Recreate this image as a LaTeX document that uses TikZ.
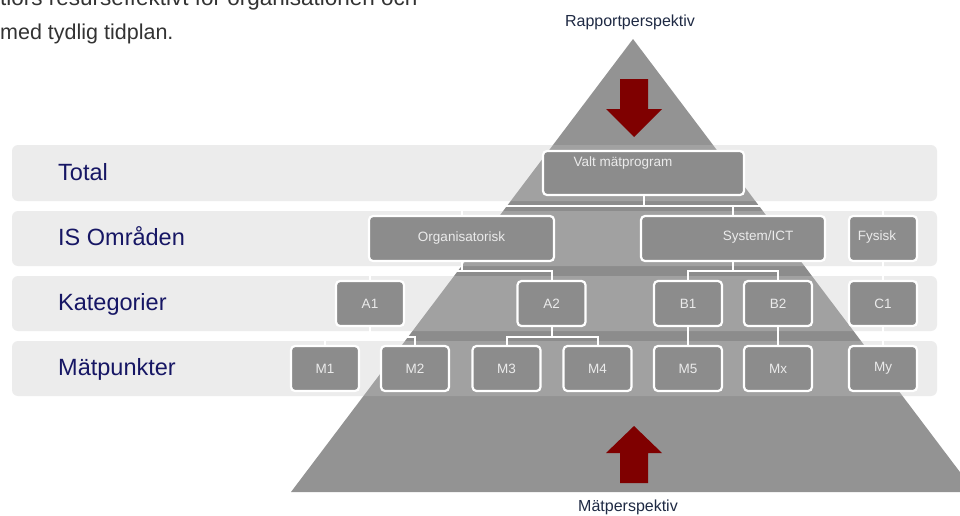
\documentclass[tikz,border=0pt]{standalone}
\usepackage{fontspec}
\setmainfont{Liberation Sans}
\usetikzlibrary{calc}
\definecolor{pyr}{HTML}{939393}
\definecolor{bandc}{HTML}{C3C3C3}
\definecolor{boxc}{HTML}{8C8C8C}
\definecolor{navy}{RGB}{22,22,100}
\definecolor{arrowred}{HTML}{7F0000}
\definecolor{captxt}{HTML}{1F2A44}
\definecolor{bodytxt}{HTML}{333333}
\begin{document}
\begin{tikzpicture}[x=1pt,y=-1pt,
  band/.style={fill=bandc,fill opacity=0.3,rounded corners=6pt},
  nbox/.style={draw=white,line width=2.2pt,fill=boxc,rounded corners=4pt,
    minimum width=68pt,minimum height=45pt,inner sep=0pt,text=white!92!black,
    font=\fontsize{13.5}{15}\selectfont},
  boxlbl/.style={inner sep=0pt,text=white!92!black,font=\fontsize{13.5}{15}\selectfont},
  conn/.style={draw=white,line width=2pt},
  rowlabel/.style={anchor=base west,text=navy,font=\fontsize{23.5}{28}\selectfont,inner sep=0pt},
  caption/.style={anchor=base,text=captxt,font=\fontsize{16}{19}\selectfont,inner sep=0pt},
  bodyline/.style={text=bodytxt,font=\fontsize{21.5}{26}\selectfont,inner sep=0pt}]
\clip (0,0) rectangle (960,515);
\fill[white] (0,0) rectangle (960,515);
% body text (cut off at top, as in the reference)
\node[bodyline,anchor=base west,font=\fontsize{22.5}{27}\selectfont] (body1) at (0,5.5) {tiors resurseffektivt för organisationen och};
\node[bodyline,anchor=base west] (body2) at (0,39) {med tydlig tidplan.};
% pyramid
\fill[pyr] (633,39) -- (975,492) -- (291,492) -- cycle;
\begin{scope}
  \clip (633,39) -- (975,492) -- (291,492) -- cycle;
  \fill[black,opacity=0.045] (0,201) rectangle (960,211);
  \fill[black,opacity=0.045] (0,266) rectangle (960,276);
  \fill[black,opacity=0.045] (0,331) rectangle (960,341);
\end{scope}
% bands
\fill[band] (12,145) rectangle (937,201);
\fill[band] (12,211) rectangle (937,266);
\fill[band] (12,276) rectangle (937,331);
\fill[band] (12,341) rectangle (937,396);
% row labels
\node[rowlabel] (lt) at (58,180) {Total};
\node[rowlabel] (li) at (58,245) {IS Områden};
\node[rowlabel] (lk) at (58,310) {Kategorier};
\node[rowlabel] (lm) at (58,375) {Mätpunkter};
% arrows
\fill[arrowred] (620,79) -- (648,79) -- (648,109) -- (662,109) -- (634,137) -- (606,109) -- (620,109) -- cycle;
\fill[arrowred] (620,483) -- (648,483) -- (648,453) -- (662,453) -- (634,426) -- (606,453) -- (620,453) -- cycle;
% captions
\node[caption] (rap) at (630,26) {Rapportperspektiv};
\node[caption] (mat) at (628,511) {Mätperspektiv};
% boxes
\node[nbox,minimum width=201pt,minimum height=44pt] (valt) at (643.5,173) {};
\node[boxlbl] (valtt) at (623,163) {Valt mätprogram};
\node[nbox,minimum width=185pt] (org) at (461.5,238.5) {Organisatorisk};
\node[nbox,minimum width=184pt] (sys) at (733,238.5) {};
\node[boxlbl] (syst) at (758,237) {System/ICT};
\node[nbox] (fys) at (883,238.5) {};
\node[boxlbl] (fyst) at (877,237) {Fysisk};
\node[nbox] (a1) at (370,303.5) {A1};
\node[nbox] (a2) at (551.5,303.5) {A2};
\node[nbox] (b1) at (688,303.5) {B1};
\node[nbox] (b2) at (778,303.5) {B2};
\node[nbox] (c1) at (883,303.5) {C1};
\node[nbox] (m1) at (325,368.5) {M1};
\node[nbox] (m2) at (415,368.5) {M2};
\node[nbox] (m3) at (506.5,368.5) {M3};
\node[nbox] (m4) at (597.5,368.5) {M4};
\node[nbox] (m5) at (688,368.5) {M5};
\node[nbox] (mx) at (778,368.5) {Mx};
\node[nbox] (my) at (883,368.5) {My};
% connectors
\coordinate (j0) at (643.5,205.5);
\coordinate (j1) at (461.5,270.5);
\coordinate (j2) at (733,270.5);
\coordinate (j3) at (370,336.5);
\coordinate (j4) at (551.5,336.5);
\draw[conn] (valt.south) -- (j0);
\draw[conn] (org.north) |- (j0) -| (fys.north);
\draw[conn] (sys.north) -- (sys.north |- j0);
\draw[conn] (org.south) -- (j1);
\draw[conn] (a1.north) |- (j1) -| (a2.north);
\draw[conn] (sys.south) -- (j2);
\draw[conn] (b1.north) |- (j2) -| (b2.north);
\draw[conn] (a1.south) -- (j3);
\draw[conn] (m1.north) |- (j3) -| (m2.north);
\draw[conn] (a2.south) -- (j4);
\draw[conn] (m3.north) |- (j4) -| (m4.north);
\draw[conn] (b1.south) -- (m5.north);
\draw[conn] (b2.south) -- (mx.north);
\draw[conn] (fys.south) -- (c1.north);
\draw[conn] (c1.south) -- (my.north);
\end{tikzpicture}
\end{document}
